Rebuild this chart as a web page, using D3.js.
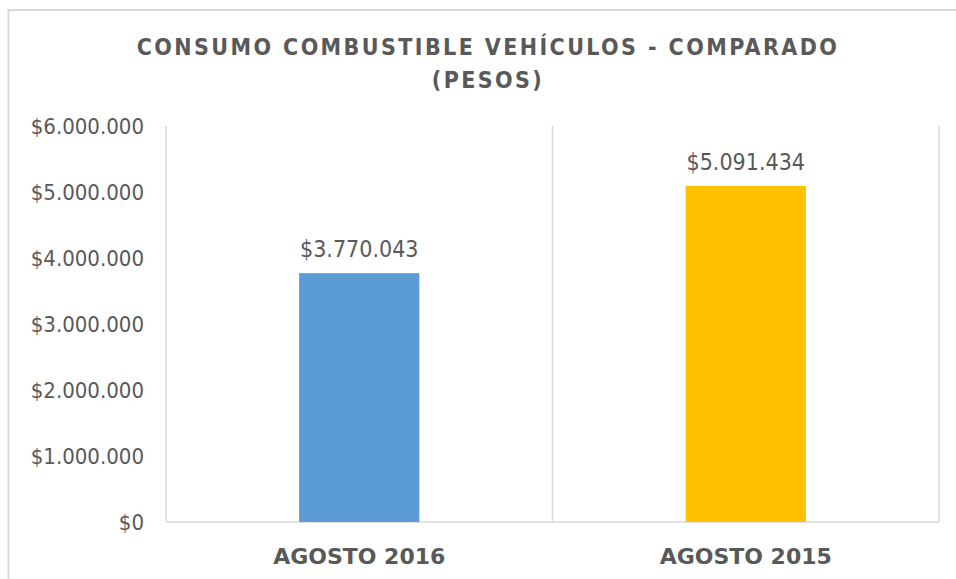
<!DOCTYPE html>
<html lang="es">
<head>
<meta charset="UTF-8">
<title>Consumo combustible vehículos</title>
<script src="https://cdn.jsdelivr.net/npm/d3@7"></script>
<style>
	html, body { margin: 0; padding: 0; background: #fff; }
	svg { display: block; }
	text { fill: #595959; }
</style>
</head>
<body>
<div id="chart"></div>
<script>
// datos del grafico
var categorias = ["AGOSTO 2016", "AGOSTO 2015"];
var valores = [3770043, 5091434];
var colores = ["#5b9bd5", "#ffc000"];
var ticksY = [0, 1000000, 2000000, 3000000, 4000000, 5000000, 6000000];
var tituloLineas = ["CONSUMO COMBUSTIBLE VEHÍCULOS - COMPARADO", "(PESOS)"];

var W = 956, H = 579;
var margin = {left: 166, right: 17, top: 126, bottom: 57};
var fuente = "'DejaVu Sans Condensed', 'DejaVu Sans', sans-serif";

var loc = d3.formatLocale({decimal: ",", thousands: ".", grouping: [3], currency: ["$", ""]});
var fmt = loc.format("$,.0f");

var svg = d3.select("#chart").append("svg")
	.attr("width", W).attr("height", H);

// borde exterior
svg.append("rect")
	.attr("x", 8.5).attr("y", 10)
	.attr("width", W + 20).attr("height", H + 20)
	.attr("fill", "none").attr("stroke", "#d9d9d9").attr("stroke-width", 2);

var x = d3.scaleBand()
	.domain(categorias)
	.range([margin.left, W - margin.right])
	.paddingInner(0).paddingOuter(0);

var y = d3.scaleLinear()
	.domain([0, 6000000])
	.range([H - margin.bottom, margin.top]);

var bw = x.bandwidth() * 0.311;

// lineas verticales de division
var bordes = categorias.map(function(c){ return x(c); });
bordes.push(x(categorias[categorias.length - 1]) + x.bandwidth());
svg.selectAll("line.grid").data(bordes).enter().append("line")
	.attr("class", "grid")
	.attr("x1", function(d){ return d; }).attr("x2", function(d){ return d; })
	.attr("y1", y(6000000)).attr("y2", y(0))
	.attr("stroke", "#d9d9d9").attr("stroke-width", 1.5);

// eje x
svg.append("line")
	.attr("x1", x.range()[0]).attr("x2", x.range()[1])
	.attr("y1", y(0)).attr("y2", y(0))
	.attr("stroke", "#d9d9d9").attr("stroke-width", 1.5);

// eje y
var ejeY = svg.append("g")
	.attr("transform", "translate(" + (margin.left - 22) + ",0)")
	.call(d3.axisLeft(y).tickValues(ticksY).tickFormat(fmt).tickSize(0).tickPadding(0));
ejeY.select(".domain").remove();
ejeY.selectAll("text")
	.attr("fill", "#595959")
	.style("font-family", fuente)
	.style("font-stretch", "condensed")
	.style("font-size", "22px");

// barras
svg.selectAll("rect.bar").data(valores).enter().append("rect")
	.attr("class", "bar")
	.attr("x", function(d, i){ return x(categorias[i]) + (x.bandwidth() - bw) / 2; })
	.attr("y", function(d){ return y(d); })
	.attr("width", bw)
	.attr("height", function(d){ return y(0) - y(d); })
	.attr("fill", function(d, i){ return colores[i]; });

// etiquetas de valor
svg.selectAll("text.val").data(valores).enter().append("text")
	.attr("class", "val")
	.attr("x", function(d, i){ return x(categorias[i]) + x.bandwidth() / 2; })
	.attr("y", function(d){ return y(d) - 16; })
	.attr("text-anchor", "middle")
	.style("font-family", fuente)
	.style("font-stretch", "condensed")
	.style("font-size", "23px")
	.text(function(d){ return fmt(d); });

// etiquetas de categoria
svg.selectAll("text.cat").data(categorias).enter().append("text")
	.attr("class", "cat")
	.attr("x", function(d){ return x(d) + x.bandwidth() / 2; })
	.attr("y", y(0) + 42)
	.attr("text-anchor", "middle")
	.style("font-family", "'DejaVu Sans', sans-serif")
	.style("font-weight", "bold")
	.style("font-size", "22px")
	.text(function(d){ return d; });

// titulo
svg.selectAll("text.tit").data(tituloLineas).enter().append("text")
	.attr("class", "tit")
	.attr("x", 488)
	.attr("y", function(d, i){ return 55 + i * 33; })
	.attr("text-anchor", "middle")
	.style("font-family", fuente)
	.style("font-stretch", "condensed")
	.style("font-weight", "bold")
	.style("font-size", "23px")
	.style("letter-spacing", "2.4px")
	.text(function(d){ return d; });
</script>
</body>
</html>
